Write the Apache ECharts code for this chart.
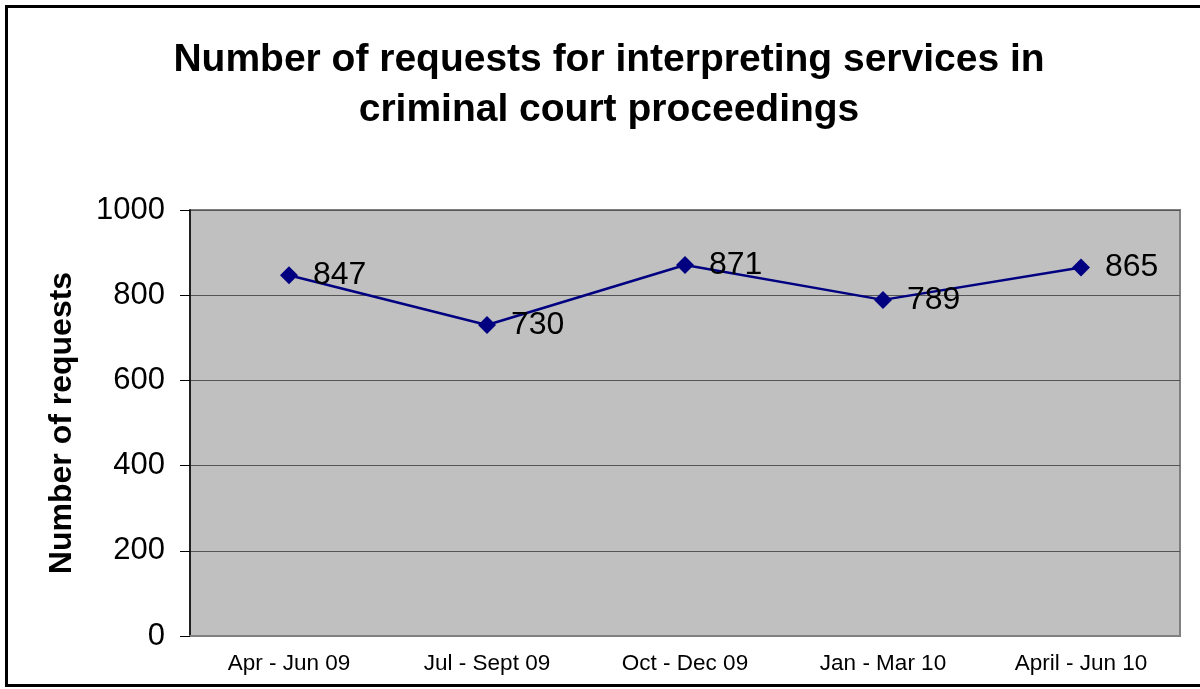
<!DOCTYPE html>
<html><head><meta charset="utf-8">
<script src="https://cdn.jsdelivr.net/npm/echarts@6/dist/echarts.min.js"></script>
<style>html,body{margin:0;padding:0;background:#fff}#c{width:1200px;height:689px}</style>
</head><body><div id="c"></div>
<script>
var categories = ['Apr - Jun 09','Jul - Sept 09','Oct - Dec 09','Jan - Mar 10','April - Jun 10'];
var requests = [847, 730, 871, 789, 865];
var yTicks = [0, 200, 400, 600, 800, 1000];

var chart = echarts.init(document.getElementById('c'));
chart.setOption({
  backgroundColor: '#ffffff',
  animation: false,
  graphic: [{
    type: 'rect', shape: {x: 6.5, y: 6.5, width: 1200, height: 679},
    style: {fill: 'none', stroke: '#000', lineWidth: 3}, silent: true
  }],
  title: {
    text: 'Number of requests for interpreting services in\ncriminal court proceedings',
    left: 604, top: 30, textAlign: 'center',
    textStyle: {fontFamily: 'Liberation Sans, Arial', fontWeight: 'bold', fontSize: 39, lineHeight: 50, color: '#000'}
  },
  grid: {left: 190, top: 210, width: 990, height: 426, show: true, backgroundColor: '#c0c0c0', borderColor: '#808080', borderWidth: 2},
  xAxis: {
    type: 'category', data: categories, boundaryGap: true,
    axisLine: {lineStyle: {color: '#808080', width: 2}},
    axisTick: {show: false},
    axisLabel: {fontFamily: 'Liberation Sans, Arial', fontSize: 22.5, color: '#000', margin: 16, interval: 0}
  },
  yAxis: {
    type: 'value', min: 0, max: 1000, interval: 200,
    name: 'Number of requests', nameLocation: 'middle', nameGap: 112, nameRotate: 90,
    nameTextStyle: {fontFamily: 'Liberation Sans, Arial', fontWeight: 'bold', fontSize: 32, color: '#000'},
    axisLine: {show: true, lineStyle: {color: '#000', width: 1.5}},
    axisTick: {show: true, length: 10, lineStyle: {color: '#000'}},
    axisLabel: {fontFamily: 'Liberation Sans, Arial', fontSize: 31, color: '#000', margin: 25,
      formatter: function (v) { return yTicks.indexOf(v) >= 0 ? String(v) : ''; }},
    splitLine: {show: true, lineStyle: {color: '#555', width: 1}}
  },
  series: [{
    type: 'line', data: requests,
    symbol: 'diamond', symbolSize: 18,
    itemStyle: {color: '#000080'},
    lineStyle: {color: '#000080', width: 2.5},
    label: {show: true, position: 'right', distance: 15, fontFamily: 'Liberation Sans, Arial', fontSize: 32, color: '#000'}
  }]
});
</script></body></html>
